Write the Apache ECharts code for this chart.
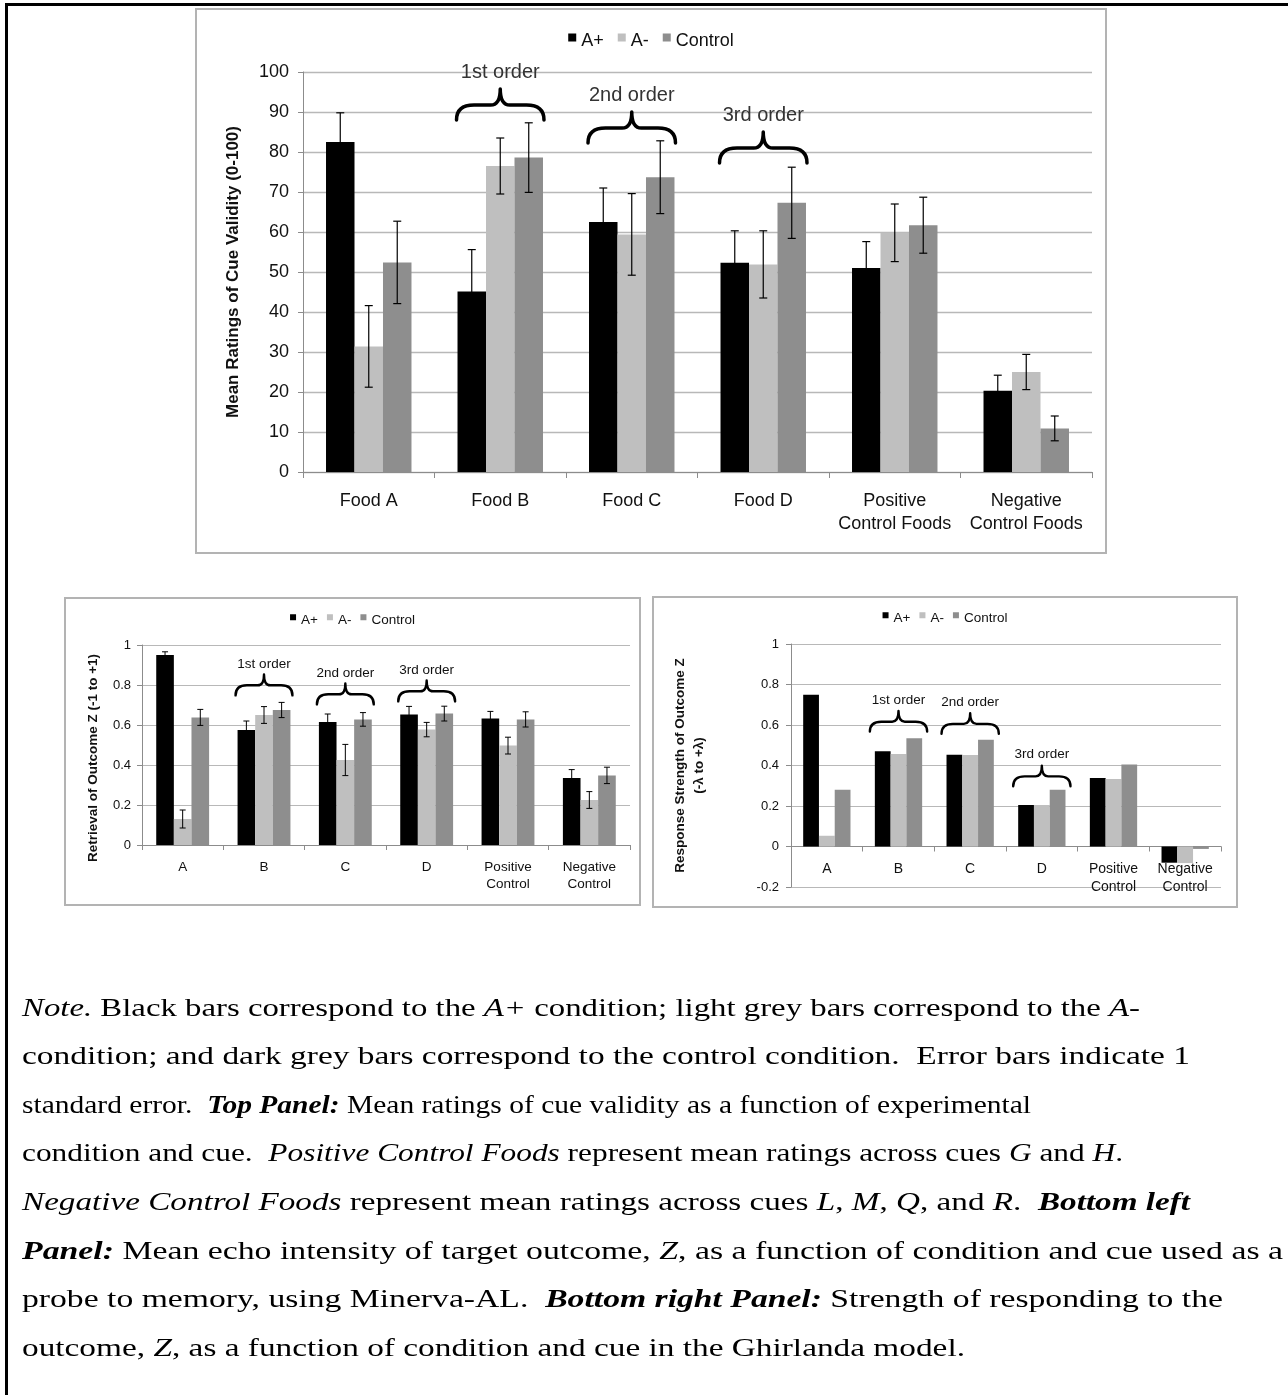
<!DOCTYPE html>
<html>
<head>
<meta charset="utf-8">
<script src="https://cdn.jsdelivr.net/npm/echarts@6.0.0/dist/echarts.min.js"></script>
<style>
html,body{margin:0;padding:0;background:#fff;}
body{width:1288px;height:1395px;position:relative;overflow:hidden;}
#frame{position:absolute;left:5px;top:3px;width:1400px;height:1500px;border-left:3px solid #000;border-top:3px solid #000;box-sizing:border-box;}
.chart{position:absolute;}
.pborder{position:absolute;border:2px solid #b3b3b3;box-sizing:border-box;pointer-events:none;}
#note{position:absolute;left:0;top:0;width:1288px;height:1395px;font-family:"Liberation Serif","Times New Roman",serif;font-size:25px;color:#000;}
.nl{position:absolute;left:22px;white-space:pre;transform-origin:0 0;line-height:30px;}
</style>
</head>
<body>
<div id="frame"></div>
<div id="c1" class="chart" style="left:195px;top:8px;width:912px;height:546px;"></div>
<div class="pborder" style="left:195px;top:8px;width:912px;height:546px;"></div>
<div id="c2" class="chart" style="left:64px;top:597px;width:577px;height:309px;"></div>
<div class="pborder" style="left:64px;top:597px;width:577px;height:309px;"></div>
<div id="c3" class="chart" style="left:652px;top:596px;width:586px;height:312px;"></div>
<div class="pborder" style="left:652px;top:596px;width:586px;height:312px;"></div>
<div id="note"></div>
<script>
// ---------------- DATA ----------------
const seriesNames = ['A+', 'A-', 'Control'];

// Top panel: mean ratings of cue validity (0-100)
const topCategories = ['Food A', 'Food B', 'Food C', 'Food D', 'Positive\nControl Foods', 'Negative\nControl Foods'];
const topAPlus    = [82.5, 45.1, 62.5, 52.3, 51.0, 20.3];
const topAMinus   = [31.4, 76.5, 59.4, 51.9, 59.8, 25.0];
const topControl  = [52.4, 78.6, 73.7, 67.3, 61.7, 10.9];
const topAPlusSE   = [7.3, 10.5, 8.5, 8.0, 6.6, 3.9];
const topAMinusSE  = [10.2, 7.0, 10.2, 8.4, 7.2, 4.4];
const topControlSE = [10.3, 8.7, 9.1, 8.9, 7.0, 3.1];
const topYTicks = [0, 100, 10]; // min, max, interval

// Bottom left: Minerva-AL retrieval of outcome Z
const minCategories = ['A', 'B', 'C', 'D', 'Positive\nControl', 'Negative\nControl'];
const minAPlus    = [0.95, 0.575, 0.615, 0.653, 0.632, 0.335];
const minAMinus   = [0.13, 0.65, 0.425, 0.577, 0.497, 0.225];
const minControl  = [0.638, 0.675, 0.628, 0.657, 0.628, 0.348];
const minAPlusSE   = [0.016, 0.045, 0.04, 0.04, 0.036, 0.042];
const minAMinusSE  = [0.045, 0.042, 0.078, 0.036, 0.042, 0.042];
const minControlSE = [0.04, 0.038, 0.034, 0.037, 0.038, 0.041];
const minYTicks = [0, 1, 0.2];

// Bottom right: Ghirlanda model response strength
const ghirCategories = ['A', 'B', 'C', 'D', 'Positive\nControl', 'Negative\nControl'];
const ghirAPlus   = [0.75, 0.47, 0.453, 0.205, 0.338, -0.08];
const ghirAMinus  = [0.053, 0.457, 0.452, 0.205, 0.333, -0.082];
const ghirControl = [0.28, 0.535, 0.527, 0.28, 0.405, -0.012];
const ghirYTicks = [-0.2, 1, 0.2];

// Brace annotations (category index, value at brace tip)
const braceLabels = ['1st order', '2nd order', '3rd order'];
const braceCats = [1, 2, 3];
const topBraceTips  = [95.75, 90, 85];
const minBraceTips  = [0.853, 0.808, 0.823];
const ghirBraceTips = [0.669, 0.658, 0.399];

const colors = ['#000000', '#bfbfbf', '#8e8e8e'];
const FONT = '"Liberation Sans", Arial, Helvetica, sans-serif';
// legend marker: small square sitting at the top of the text
const LEGEND_ICON = 'path://M0,0L8,0L8,8L0,8Z M0,15L0.01,15L0.01,15.01Z';

function errorSeries(values, se, idx, c) {
  return {
    type: 'custom', silent: true, z: 5,
    encode: { x: 0, y: [1, 2] },
    data: values.map((v, i) => [i, v - se[i], v + se[i]]),
    renderItem: function (params, api) {
      const band = api.size([1, 0])[0];
      const barW = band * (1 - c.gap) / 3;
      const ci = api.value(0);
      const lo = api.coord([ci, api.value(1)]);
      const hi = api.coord([ci, api.value(2)]);
      const x = lo[0] + (idx - 1) * barW;
      const cw = c.cap;
      const st = { stroke: '#000', lineWidth: c.errW };
      return {
        type: 'group', children: [
          { type: 'line', shape: { x1: x, y1: lo[1], x2: x, y2: hi[1] }, style: st },
          { type: 'line', shape: { x1: x - cw, y1: hi[1], x2: x + cw, y2: hi[1] }, style: st },
          { type: 'line', shape: { x1: x - cw, y1: lo[1], x2: x + cw, y2: lo[1] }, style: st }
        ]
      };
    }
  };
}

function braceSeries(tips, c) {
  return {
    type: 'custom', silent: true, z: 6,
    encode: { x: 0, y: 1 },
    data: braceCats.map((ci, i) => [ci, tips[i], i]),
    renderItem: function (params, api) {
      const band = api.size([1, 0])[0];
      const p = api.coord([api.value(0), api.value(1)]);
      const w = band * (1 - c.gap) / 2 + c.braceExtra;
      const H = c.braceH;
      const cx = p[0], ty = p[1];
      const m = ty + H * 0.52;
      const d = 'M' + (cx - w) + ',' + (ty + H) +
        ' Q' + (cx - w) + ',' + m + ' ' + (cx - w * 0.6) + ',' + m +
        ' L' + (cx - w * 0.22) + ',' + m +
        ' Q' + cx + ',' + m + ' ' + cx + ',' + ty +
        ' Q' + cx + ',' + m + ' ' + (cx + w * 0.22) + ',' + m +
        ' L' + (cx + w * 0.6) + ',' + m +
        ' Q' + (cx + w) + ',' + m + ' ' + (cx + w) + ',' + (ty + H);
      return {
        type: 'group', children: [
          { type: 'path', shape: { pathData: d }, style: { fill: null, stroke: '#000', lineWidth: c.braceLW, lineCap: 'round', lineJoin: 'round' } },
          { type: 'text', x: cx, y: ty - c.textGap,
            style: { text: braceLabels[api.value(2)], fill: c.braceColor, font: c.braceFont + 'px ' + FONT,
                     align: 'center', verticalAlign: 'middle', textAlign: 'center', textVerticalAlign: 'middle' } }
        ]
      };
    }
  };
}

function buildOption(c) {
  const bars = c.values.map((vals, i) => ({
    name: seriesNames[i], type: 'bar', data: vals, barGap: '0%', barCategoryGap: (c.gap * 100) + '%',
    itemStyle: { color: colors[i] }, z: 2
  }));
  const errs = c.se ? c.se.map((s, i) => errorSeries(c.values[i], s, i, c)) : [];
  return {
    animation: false,
    textStyle: { fontFamily: FONT },
    legend: {
      data: seriesNames, selectedMode: false, top: c.legendTop, left: 'center', icon: LEGEND_ICON,
      itemWidth: c.icon, itemHeight: c.icon * 2, itemGap: c.legendGap,
      textStyle: { fontSize: c.legendFont, color: '#111', fontFamily: FONT }
    },
    grid: Object.assign({ outerBoundsMode: 'none', containLabel: false }, c.grid),
    xAxis: {
      type: 'category', data: c.categories,
      axisLine: { onZero: true, lineStyle: { color: '#8c8c8c', width: 1 } },
      axisTick: { show: true, length: c.tickLen, lineStyle: { color: '#8c8c8c' } },
      axisLabel: { interval: 0, fontSize: c.catFont, color: '#111', margin: c.catMargin, lineHeight: c.catLH, fontFamily: FONT },
      splitLine: { show: false }
    },
    yAxis: {
      type: 'value', min: c.ticks[0], max: c.ticks[1], interval: c.ticks[2],
      name: c.yName, nameLocation: 'middle', nameGap: c.nameGap, nameRotate: 90,
      nameTextStyle: { fontSize: c.nameFont, fontWeight: 'bold', color: '#111', lineHeight: c.nameLH, padding: c.namePad, fontFamily: FONT },
      axisLine: { show: true, lineStyle: { color: '#8c8c8c' } },
      axisTick: { show: true, length: 5, lineStyle: { color: '#8c8c8c' } },
      axisLabel: { fontSize: c.tickFont, color: '#111', margin: c.tickMargin, fontFamily: FONT },
      splitLine: { lineStyle: { color: '#b8b8b8', width: c.gridW } }
    },
    series: bars.concat(errs, [braceSeries(c.braces, c)])
  };
}

const topCfg = {
  categories: topCategories, values: [topAPlus, topAMinus, topControl], se: [topAPlusSE, topAMinusSE, topControlSE],
  ticks: topYTicks, braces: topBraceTips, gap: 0.35,
  grid: { left: 108, right: 15, top: 64, bottom: 82 },
  legendTop: 19, icon: 8, legendGap: 14, legendFont: 18,
  catFont: 18, catMargin: 18, catLH: 23, tickLen: 6, tickFont: 18, tickMargin: 14,
  yName: 'Mean Ratings of Cue Validity (0-100)', nameGap: 60, nameFont: 17, nameLH: 20, namePad: 0,
  gridW: 1.4, cap: 4, errW: 1.2, braceH: 31, braceExtra: 1, braceLW: 3.5, textGap: 17, braceFont: 20, braceColor: '#333'
};
const minCfg = {
  categories: minCategories, values: [minAPlus, minAMinus, minControl], se: [minAPlusSE, minAMinusSE, minControlSE],
  ticks: minYTicks, braces: minBraceTips, gap: 0.35,
  grid: { left: 78, right: 11, top: 48, bottom: 61 },
  legendTop: 11, icon: 6, legendGap: 9, legendFont: 13.5,
  catFont: 13.5, catMargin: 13.5, catLH: 17, tickLen: 5, tickFont: 13, tickMargin: 11,
  yName: 'Retrieval of Outcome Z (-1 to +1)', nameGap: 41, nameFont: 13.5, nameLH: 16, namePad: [0, 26, 0, 0],
  gridW: 1.2, cap: 3, errW: 1, braceH: 21, braceExtra: 2, braceLW: 2.4, textGap: 10, braceFont: 13.5, braceColor: '#111'
};
const ghirCfg = {
  categories: ghirCategories, values: [ghirAPlus, ghirAMinus, ghirControl], se: null,
  ticks: ghirYTicks, braces: ghirBraceTips, gap: 0.34,
  grid: { left: 139, right: 17, top: 48, bottom: 21 },
  legendTop: 10, icon: 6, legendGap: 9, legendFont: 13.5,
  catFont: 14, catMargin: 13.5, catLH: 18, tickLen: 5, tickFont: 13, tickMargin: 12,
  yName: 'Response Strength of Outcome Z\n(-λ to +λ)', nameGap: 82, nameFont: 13.5, nameLH: 19, namePad: 0,
  gridW: 1.2, cap: 3, errW: 1, braceH: 20.5, braceExtra: 5, braceLW: 2.4, textGap: 11, braceFont: 13.5, braceColor: '#111'
};

echarts.init(document.getElementById('c1')).setOption(buildOption(topCfg));
echarts.init(document.getElementById('c2')).setOption(buildOption(minCfg));
const ch3 = echarts.init(document.getElementById('c3'));
ch3.setOption(buildOption(ghirCfg));
// category labels sit just under the zero line (not under the grid bottom)
{
  const yZero = ch3.convertToPixel({ yAxisIndex: 0 }, 0);
  const yBottom = ch3.convertToPixel({ yAxisIndex: 0 }, ghirYTicks[0]);
  ch3.setOption({ xAxis: { axisLabel: { margin: ghirCfg.catMargin - (yBottom - yZero) } } });
}

// ---------------- NOTE TEXT ----------------
const noteLines = [
  '<i>Note.</i> Black bars correspond to the <i>A+</i> condition; light grey bars correspond to the <i>A-</i>',
  'condition; and dark grey bars correspond to the control condition.  Error bars indicate 1',
  'standard error.  <b><i>Top Panel:</i></b> Mean ratings of cue validity as a function of experimental',
  'condition and cue.  <i>Positive Control Foods</i> represent mean ratings across cues <i>G</i> and <i>H</i>.',
  '<i>Negative Control Foods</i> represent mean ratings across cues <i>L</i>, <i>M</i>, <i>Q</i>, and <i>R</i>.  <b><i>Bottom left</i></b>',
  '<b><i>Panel:</i></b> Mean echo intensity of target outcome, <i>Z</i>, as a function of condition and cue used as a',
  'probe to memory, using Minerva-AL.  <b><i>Bottom right Panel:</i></b> Strength of responding to the',
  'outcome, <i>Z</i>, as a function of condition and cue in the Ghirlanda model.'
];
// right edge of each printed line in the reference (layout only)
const noteLineRight = [1140, 1190, 1031, 1123, 1190, 1283, 1223, 965];
const note = document.getElementById('note');
const noteLeft = 22, firstBaseline = 1016, lineStep = 48.6, baselineInBox = 23.4;
noteLines.forEach((html, i) => {
  const d = document.createElement('div');
  d.className = 'nl';
  d.innerHTML = html;
  d.style.left = noteLeft + 'px';
  d.style.top = (firstBaseline + i * lineStep - baselineInBox) + 'px';
  note.appendChild(d);
  const w = d.getBoundingClientRect().width;
  d.style.transform = 'scaleX(' + ((noteLineRight[i] - noteLeft) / w) + ')';
});
</script>
</body>
</html>
